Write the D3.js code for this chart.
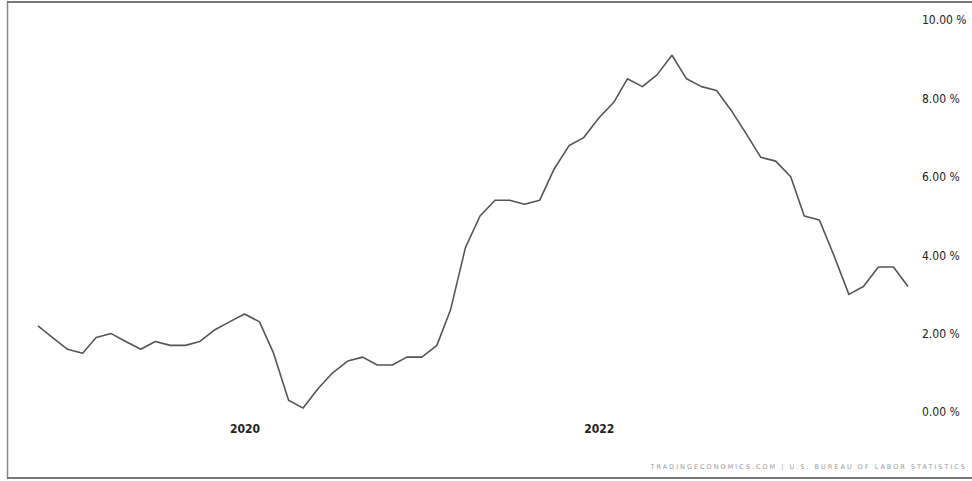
<!DOCTYPE html>
<html><head><meta charset="utf-8">
<script src="https://cdn.jsdelivr.net/npm/d3@7"></script>
<style>html,body{margin:0;padding:0;background:#fff;}svg{display:block;}</style>
</head><body><svg id="c" width="972" height="481"></svg>
<script>
const months = [
 "2018-11","2018-12",
 "2019-01","2019-02","2019-03","2019-04","2019-05","2019-06","2019-07","2019-08","2019-09","2019-10","2019-11","2019-12",
 "2020-01","2020-02","2020-03","2020-04","2020-05","2020-06","2020-07","2020-08","2020-09","2020-10","2020-11","2020-12",
 "2021-01","2021-02","2021-03","2021-04","2021-05","2021-06","2021-07","2021-08","2021-09","2021-10","2021-11","2021-12",
 "2022-01","2022-02","2022-03","2022-04","2022-05","2022-06","2022-07","2022-08","2022-09","2022-10","2022-11","2022-12",
 "2023-01","2023-02","2023-03","2023-04","2023-05","2023-06","2023-07","2023-08","2023-09","2023-10"];
const inflation = [
 2.2,1.9,
 1.6,1.5,1.9,2.0,1.8,1.6,1.8,1.7,1.7,1.8,2.1,2.3,
 2.5,2.3,1.5,0.3,0.1,0.6,1.0,1.3,1.4,1.2,1.2,1.4,
 1.4,1.7,2.6,4.2,5.0,5.4,5.4,5.3,5.4,6.2,6.8,7.0,
 7.5,7.9,8.5,8.3,8.6,9.1,8.5,8.3,8.2,7.7,7.1,6.5,
 6.4,6.0,5.0,4.9,4.0,3.0,3.2,3.7,3.7,3.2];
const yTicks = [0,2,4,6,8,10];
const yearTicks = ["2020-01","2022-01"];
const sourceText = "TRADINGECONOMICS.COM  |  U.S. BUREAU OF LABOR STATISTICS";

const parse = d3.timeParse("%Y-%m");
const data = months.map((m,i)=>({date:parse(m), v:inflation[i]}));

const svg = d3.select("#c");
const x = d3.scaleTime().domain([parse(months[0]), parse(months[months.length-1])]).range([38, 908]);
const y = d3.scaleLinear().domain([0,10]).range([412, 20]);

// frame
svg.append("line").attr("x1",7.5).attr("x2",7.5).attr("y1",2).attr("y2",478).attr("stroke","#888").attr("stroke-width",1.5);
svg.append("line").attr("x1",7).attr("x2",972).attr("y1",2).attr("y2",2).attr("stroke","#777").attr("stroke-width",2);
svg.append("line").attr("x1",7).attr("x2",972).attr("y1",478).attr("y2",478).attr("stroke","#777").attr("stroke-width",2);

// y axis (right)
const yAxis = d3.axisRight(y).tickValues(yTicks).tickSize(0).tickPadding(0)
  .tickFormat(d=>d3.format(".2f")(d)+" %");
const ga = svg.append("g").attr("transform","translate(922,0)").call(yAxis);
ga.select(".domain").remove();
ga.selectAll("text").attr("font-family","'DejaVu Sans Condensed','Liberation Sans Narrow',sans-serif")
  .attr("font-size",12).attr("fill","#222").attr("dy","0.32em");

// x axis
const xAxis = d3.axisBottom(x).tickValues(yearTicks.map(parse)).tickSize(0).tickPadding(0)
  .tickFormat(d3.timeFormat("%Y"));
const gx = svg.append("g").attr("transform","translate(0,424)").call(xAxis);
gx.select(".domain").remove();
gx.selectAll("text").attr("font-family","'DejaVu Sans Condensed','Liberation Sans Narrow',sans-serif")
  .attr("font-size",12).attr("font-weight","bold").attr("fill","#222").attr("dy","0.71em");

// line
const line = d3.line().x(d=>x(d.date)).y(d=>y(d.v));
svg.append("path").datum(data).attr("d",line).attr("fill","none")
  .attr("stroke","#555").attr("stroke-width",1.6).attr("stroke-linejoin","round");

// source
svg.append("text").attr("x",967).attr("y",469).attr("text-anchor","end")
  .attr("font-family","'DejaVu Sans',sans-serif").attr("font-size",6.5).attr("letter-spacing",2)
  .attr("fill","#999").text(sourceText);
</script></body></html>
